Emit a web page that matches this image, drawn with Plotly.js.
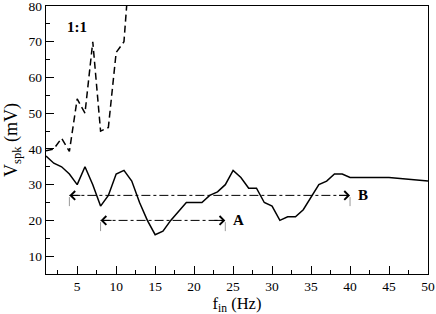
<!DOCTYPE html>
<html>
<head>
<meta charset="utf-8">
<script src="https://cdn.plot.ly/plotly-3.0.1.min.js"></script>
<style>
  html, body { margin: 0; padding: 0; background: #fff; }
  #plot { width: 436px; height: 314px; }
</style>
</head>
<body>
<div id="plot"></div>
<script>
// solid curve: V_spk vs f_in
var fIn = [1, 2, 3, 4, 5, 6, 7, 8, 9, 10, 11, 12, 13, 14, 15, 16, 17, 18, 19, 20,
           21, 22, 23, 24, 25, 26, 27, 28, 29, 30, 31, 32, 33, 34, 35, 36, 37, 38, 39, 40, 45, 50];
var vSpk = [38, 36, 35, 33, 30, 35, 30, 24, 27, 33, 34, 31, 25, 20, 16, 17, 20, 22.4, 25, 25,
            25, 27, 28, 30, 34, 32, 29, 29, 25, 24, 20, 21, 21, 23, 26.6, 30, 31, 33, 33, 32, 32, 31];

// dashed curve: 1:1 locking
var fIn11 = [1, 2, 3, 4, 5, 6, 7, 8, 9, 10, 11, 12];
var v11 = [39.5, 40, 43, 39.3, 54, 50, 70, 45, 46, 67, 70, 99];

// dash-dot ranges: [from, to, level, label]
var rangeA = [8, 24, 20, "A"];
var rangeB = [4, 40, 27, "B"];

var serif = "Liberation Serif, Times New Roman, serif";

// 1. traces
var trace1 = {
  x: fIn,
  y: vSpk,
  type: "scatter",
  mode: "lines",
  line: { color: "black", width: 1.5 },
  hoverinfo: "skip"
};

var trace2 = {
  x: fIn11,
  y: v11,
  type: "scatter",
  mode: "lines",
  line: { color: "black", width: 1.5, dash: "7px,4px" },
  hoverinfo: "skip"
};

var data = [trace1, trace2];
var shapes = [];
var annotations = [];

// 2. build range arrows from the arrays
[rangeA, rangeB].forEach(function(r) {
  data.push({
    x: [r[0], r[1]],
    y: [r[2], r[2]],
    type: "scatter",
    mode: "lines",
    line: { color: "black", width: 1, dash: "dashdot" },
    hoverinfo: "skip"
  });
  [r[0], r[1]].forEach(function(xv) {
    shapes.push({
      type: "line", xref: "x", yref: "y",
      x0: xv, x1: xv, y0: r[2] - 3, y1: r[2] + 2,
      line: { color: "#999", width: 1, dash: "dash" }
    });
  });
  // arrow heads at both ends
  annotations.push({
    x: r[0], y: r[2], xref: "x", yref: "y",
    ax: 14, ay: 0, text: " ", showarrow: true,
    arrowhead: 4, arrowsize: 1.7, arrowwidth: 1, arrowcolor: "black"
  });
  annotations.push({
    x: r[1], y: r[2], xref: "x", yref: "y",
    ax: -14, ay: 0, text: " ", showarrow: true,
    arrowhead: 4, arrowsize: 1.7, arrowwidth: 1, arrowcolor: "black"
  });
  annotations.push({
    x: r[1] + 0.7, y: r[2], xref: "x", yref: "y",
    xanchor: "left", yanchor: "middle",
    text: "<b>" + r[3] + "</b>", showarrow: false,
    font: { family: serif, size: 15, color: "black" }
  });
});

annotations.push({
  x: 5, y: 74, xref: "x", yref: "y",
  xanchor: "center", yanchor: "middle",
  text: "<b>1:1</b>", showarrow: false,
  font: { family: serif, size: 15, color: "black" }
});

// 3. layout
var layout = {
  width: 436,
  height: 314,
  margin: { l: 46, r: 8, t: 6, b: 40 },
  paper_bgcolor: "white",
  plot_bgcolor: "white",
  showlegend: false,
  font: { family: serif, size: 13, color: "black" },
  xaxis: {
    range: [1, 50],
    tickmode: "array",
    tickvals: [5, 10, 15, 20, 25, 30, 35, 40, 45, 50],
    ticks: "inside", ticklen: 8, tickwidth: 1, tickcolor: "black",
    minor: { tickmode: "array", tickvals: [2.5, 7.5, 12.5, 17.5, 22.5, 27.5, 32.5, 37.5, 42.5, 47.5],
             ticks: "inside", ticklen: 4, tickwidth: 1, tickcolor: "black" },
    showgrid: false, zeroline: false,
    showline: true, linecolor: "black", linewidth: 1.2, mirror: true,
    ticklabeloverflow: "allow",
    tickfont: { family: serif, size: 13.5 },
    title: { text: "f<sub>in</sub> (Hz)", font: { family: serif, size: 16.5 }, standoff: 5 }
  },
  yaxis: {
    range: [5, 80],
    tickmode: "array",
    tickvals: [10, 20, 30, 40, 50, 60, 70, 80],
    ticks: "inside", ticklen: 8, tickwidth: 1, tickcolor: "black",
    minor: { tickmode: "array", tickvals: [15, 25, 35, 45, 55, 65, 75],
             ticks: "inside", ticklen: 4, tickwidth: 1, tickcolor: "black" },
    showgrid: false, zeroline: false,
    showline: true, linecolor: "black", linewidth: 1.2, mirror: true,
    ticklabeloverflow: "allow",
    tickfont: { family: serif, size: 13.5 },
    title: { text: "V<sub>spk</sub> (mV)", font: { family: serif, size: 18 }, standoff: 6 }
  },
  shapes: shapes,
  annotations: annotations
};

Plotly.newPlot("plot", data, layout, { staticPlot: true });
</script>
</body>
</html>
